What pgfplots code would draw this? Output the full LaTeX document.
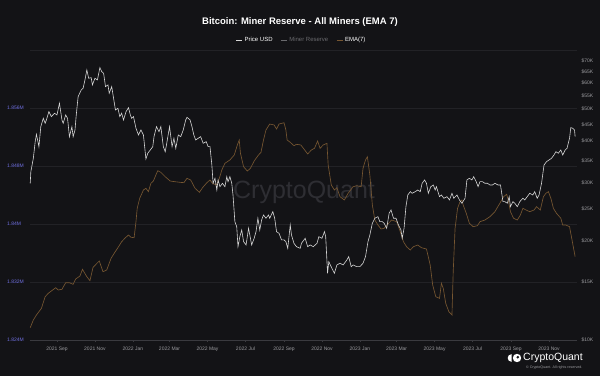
\documentclass[border=0pt]{standalone}
\usepackage{pgfplots}
\pgfplotsset{compat=1.18}
\usepackage{fontspec}
\setmainfont{Liberation Sans}
\definecolor{bg}{HTML}{131316}
\definecolor{gridc}{HTML}{222226}
\definecolor{axisc}{HTML}{3A3A3F}
\definecolor{pricec}{HTML}{D6D6D6}
\definecolor{emac}{HTML}{765631}
\definecolor{leftlab}{HTML}{6F6FE0}
\definecolor{ticklab}{HTML}{9A9A9E}
\definecolor{wm}{HTML}{2E2E33}
\definecolor{mrc}{HTML}{6A6A6E}

\pgfplotstableread{
day reserve
-43 1.82570
-38 1.82676
-33 1.82745
-25 1.82837
-19 1.82997
-14 1.83044
-9 1.83076
-2 1.83121
2 1.83090
8 1.83099
14 1.83190
20 1.83190
26 1.83168
30 1.83241
37 1.83283
41 1.83375
48 1.83273
53 1.83218
58 1.83403
68 1.83490
74 1.83342
80 1.83366
87 1.83527
92 1.83596
99 1.83687
104 1.83756
110 1.83811
115 1.83848
119 1.83817
124 1.83811
127 1.84032
129 1.84217
133 1.84354
139 1.84469
143 1.84492
147 1.84446
151 1.84561
155 1.84593
159 1.84676
162 1.84735
167 1.84713
174 1.84652
182 1.84593
190 1.84583
198 1.84575
204 1.84570
209 1.84630
215 1.84607
222 1.84492
229 1.84437
234 1.84501
241 1.84570
246 1.84607
250 1.84561
256 1.84538
261 1.84630
265 1.84745
270 1.84837
278 1.84883
285 1.84952
290 1.85090
293 1.85159
295 1.84975
300 1.84790
306 1.84731
311 1.84768
317 1.84869
324 1.84952
328 1.84989
332 1.85159
336 1.85297
342 1.85379
349 1.85366
353 1.85310
357 1.85379
365 1.85397
368 1.85297
370 1.85159
375 1.85127
381 1.85080
385 1.85099
392 1.85090
397 1.85035
403 1.84966
409 1.85021
414 1.85044
419 1.85145
423 1.85044
428 1.85090
434 1.85113
436 1.84814
441 1.84538
446 1.84469
450 1.84501
455 1.84377
462 1.84331
468 1.84423
476 1.84514
482 1.84528
489 1.84514
492 1.84768
496 1.84883
499 1.84928
503 1.84676
507 1.84262
511 1.84055
516 1.83986
521 1.83931
526 1.83941
533 1.84010
538 1.84055
546 1.84032
551 1.83917
557 1.83756
562 1.83687
568 1.83641
573 1.83687
580 1.83710
586 1.83673
594 1.83655
600 1.83434
604 1.83159
609 1.82997
615 1.82975
618 1.83182
621 1.83113
625 1.82906
630 1.82790
635 1.82745
637 1.83342
640 1.83941
644 1.84217
648 1.84308
651 1.84331
653 1.84262
658 1.84148
663 1.84010
669 1.83963
676 1.83977
680 1.84032
688 1.84055
696 1.84101
704 1.84170
712 1.84286
718 1.84377
723 1.84410
726 1.84308
729 1.84170
734 1.84079
740 1.84055
745 1.84124
749 1.84217
754 1.84193
760 1.84170
767 1.84193
771 1.84239
777 1.84193
782 1.84377
786 1.84423
790 1.84446
794 1.84354
798 1.84217
803 1.84148
810 1.84079
813 1.83986
818 1.83986
824 1.83963
829 1.83734
833 1.83549
}\reservetable

\pgfplotstableread{
day price
-43 29840
-42 32360
-38 35520
-35 39900
-33 42010
-29 38530
-26 44300
-22 46970
-19 45360
-17 46420
-13 49180
-9 47500
-4 48640
0 48060
4 52160
8 46420
10 45360
14 48060
17 46970
20 41310
24 44300
26 41310
29 43290
31 48060
34 54610
39 57220
42 57900
45 61370
48 65790
51 62090
55 62350
57 59270
61 62090
65 61370
69 66850
72 65020
75 64300
78 58570
82 59270
84 55920
88 58570
91 54000
94 49770
98 50360
101 47500
104 48640
107 46420
111 49180
115 50570
118 48060
120 46970
123 47500
127 43810
131 41800
135 43290
139 41800
143 35350
146 36800
150 37650
154 38530
156 41310
160 44300
164 42770
167 44300
171 38530
174 37200
176 38980
181 44300
185 38530
188 40850
191 38090
195 41800
199 41310
203 43290
207 46420
209 47290
214 46420
217 44300
220 41800
223 40370
227 40850
231 41310
235 39450
240 39900
243 38530
246 38530
249 33900
251 29840
254 30900
257 28480
259 30540
262 29140
266 29840
270 29140
273 31250
275 30180
278 31250
281 29840
283 27500
286 22830
289 22040
291 19180
294 20560
297 21540
300 19860
304 19410
308 21800
310 20810
313 19410
317 20330
320 21290
323 23380
326 21540
329 23100
332 23920
336 23380
340 23920
342 23380
347 24480
350 23380
353 21290
357 21050
361 20100
365 20100
368 19860
371 18960
375 22310
377 20810
381 19630
385 19180
391 18960
393 19630
399 20330
403 19180
407 19410
412 19180
418 19630
421 20560
426 20330
430 21290
432 20560
435 15930
437 17270
442 16490
446 15930
450 16880
455 17080
460 16880
466 17480
469 17890
473 16680
476 16880
482 16680
487 16680
492 17080
496 17890
500 19860
503 20810
507 22580
511 23380
516 23640
519 22830
523 22830
526 22580
530 21800
534 24210
537 24770
541 23380
545 23380
549 22310
553 21540
555 20330
558 21800
561 25350
564 27500
568 28150
571 27830
576 28150
580 28480
584 28150
587 29840
591 30540
594 29840
597 27830
601 29140
605 29490
608 28480
610 29140
615 27180
618 27500
622 26880
627 27180
631 26570
635 27830
638 26880
643 27500
647 26570
651 25960
656 26880
659 30540
663 30900
667 30540
670 31250
674 30180
677 29140
680 30180
684 30180
688 29840
692 29840
696 29490
700 29490
704 29840
709 29490
713 29490
717 26250
720 26250
724 25960
727 27180
729 25350
733 26250
736 25960
740 25350
744 26250
749 26880
752 26570
756 27180
760 27830
765 27500
768 28150
772 26880
775 27500
779 29840
783 33900
787 34700
791 35110
795 35520
799 36360
802 37200
806 36800
810 37650
813 36360
817 37650
820 38090
824 40850
826 43990
829 43810
832 43290
833 41310
}\pricetable

\begin{document}
\begin{tikzpicture}
\fill[bg] (0pt,0pt) rectangle (600pt,376pt);
\useasboundingbox (0pt,0pt) rectangle (600pt,376pt);
\node[wm, font=\fontsize{25}{25}\selectfont] at (304pt,184pt) {CryptoQuant};
\node[white, font=\bfseries\fontsize{9.5}{11}\selectfont] at (300pt,354pt) {Bitcoin: Miner Reserve - All Miners (EMA 7)};

\begin{axis}[
  at={(29.6pt,36pt)}, anchor=south west, scale only axis,
  width=547.4pt, height=290pt,
  xmin=-44, xmax=836, ymin=1.824, ymax=1.864,
  axis x line*=bottom, axis y line*=left,
  x axis line style={axisc, line width=0.5pt, -},
  y axis line style={draw=none},
  xtick={0,61,122,181,242,303,365,426,487,546,607,668,730,791},
  xticklabels={2021 Sep,2021 Nov,2022 Jan,2022 Mar,2022 May,2022 Jul,2022 Sep,2022 Nov,2023 Jan,2023 Mar,2023 May,2023 Jul,2023 Sep,2023 Nov},
  ytick={1.824,1.832,1.84,1.848,1.856,1.864},
  yticklabels={1.824M,1.832M,1.84M,1.848M,1.856M,{}},
  ymajorgrids, grid style={gridc, line width=0.5pt},
  tick align=outside, major tick length=2pt,
  xtick style={axisc, line width=0.4pt},
  ytick style={draw=none},
  xticklabel style={ticklab, font=\fontsize{5}{6}\selectfont, yshift=-1pt},
  yticklabel style={leftlab, font=\fontsize{5}{6}\selectfont, anchor=west, xshift=-24pt},
]
\addplot[emac, line width=0.65pt] table[x=day, y=reserve] {\reservetable};
\end{axis}

\begin{axis}[
  at={(29.6pt,36pt)}, anchor=south west, scale only axis,
  width=547.4pt, height=290pt,
  xmin=-44, xmax=836, ymode=log, ymin=10000, ymax=75635,
  axis x line=none, axis y line*=right,
  y axis line style={draw=none},
  ytick={10000,15000,20000,25000,30000,35000,40000,45000,50000,55000,60000,65000,70000},
  yticklabels={\$10K,\$15K,\$20K,\$25K,\$30K,\$35K,\$40K,\$45K,\$50K,\$55K,\$60K,\$65K,\$70K},
  yminorticks=false, ytick style={draw=none},
  yticklabel style={ticklab, font=\fontsize{5}{6}\selectfont, anchor=west, xshift=1pt},
  legend style={at={(0.497,1.0345)}, anchor=center, draw=none, fill=none,
    font=\fontsize{6}{7}\selectfont, text=white,
    /tikz/every even column/.append style={column sep=6pt}},
  legend columns=3,
  legend image code/.code={\draw[#1] (0pt,0pt) -- (6pt,0pt);},
]
\addlegendimage{pricec, line width=0.7pt}
\addlegendentry{Price USD}
\addlegendimage{mrc, line width=0.7pt}
\addlegendentry{\textcolor{mrc}{Miner Reserve}}
\addlegendimage{emac, line width=0.7pt}
\addlegendentry{EMA(7)}
\addplot[pricec, line width=0.6pt, forget plot] table[x=day, y=price] {\pricetable};
\end{axis}

\fill[white] (517pt,18pt) circle (4.2pt);
\fill[bg] (517.8pt,18.8pt) circle (1.4pt);
\fill[white] (511.5pt,21.8pt) arc (90:270:3.8pt) -- cycle;
\node[white, anchor=west, inner sep=0, font=\fontsize{10.5}{12}\selectfont] at (523pt,18pt) {CryptoQuant};
\node[ticklab, anchor=west, inner sep=0, font=\fontsize{3.6}{4}\selectfont] at (526pt,8pt) {\textcopyright{} CryptoQuant. All rights reserved.};
\end{tikzpicture}
\end{document}
